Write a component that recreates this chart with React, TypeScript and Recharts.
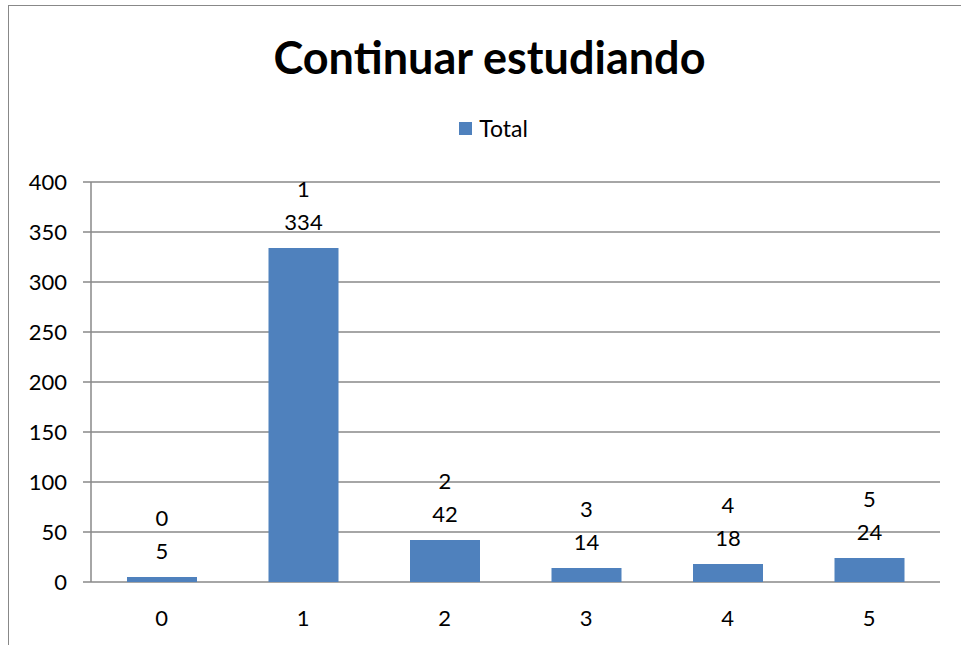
import { BarChart, Bar, XAxis, YAxis, CartesianGrid, LabelList } from "recharts";

const categories = ["0", "1", "2", "3", "4", "5"];
const totals = [5, 334, 42, 14, 18, 24];
const yTicks = [0, 50, 100, 150, 200, 250, 300, 350, 400];
const slotTicks = [0, 1, 2, 3, 4, 5, 6];

const BLUE = "#4F81BD";
const GRID = "#888888";
const FONT = "Lato, 'Open Sans', sans-serif";

const data = categories.map((name, i) => ({ name, slot: i + 0.5, value: totals[i] }));

const renderLabel = (props: any) => {
  const { x, y, width, index, value } = props;
  const cx = Number(x) + Number(width) / 2;
  return (
    <g>
      <text x={cx} y={Number(y) - 60} textAnchor="middle" dominantBaseline="central" fontSize={22} fill="#000" fontFamily={FONT}>
        {categories[index]}
      </text>
      <text x={cx} y={Number(y) - 27} textAnchor="middle" dominantBaseline="central" fontSize={22} fill="#000" fontFamily={FONT}>
        {value}
      </text>
    </g>
  );
};

export default function App() {
  return (
    <div style={{ position: "absolute", left: 0, top: 0, width: 961, height: 645, overflow: "hidden", background: "#fff" }}>
      <div style={{ position: "absolute", left: 8, top: 5, width: 1000, height: 700, border: "1.5px solid #888" }} />
      <div style={{ position: "absolute", left: 0, top: 29, width: 979, textAlign: "center", fontFamily: FONT, fontWeight: 700, fontSize: 45, lineHeight: "56px", color: "#000" }}>
        Continuar estudiando
      </div>
      <div style={{ position: "absolute", left: 0, top: 114, width: 987, display: "flex", justifyContent: "center", alignItems: "center", fontFamily: FONT, fontSize: 23, lineHeight: "28px", color: "#000" }}>
        <span style={{ width: 13, height: 13, background: BLUE, marginRight: 7 }} />
        <span>Total</span>
      </div>
      <div style={{ position: "absolute", left: 0, top: 0 }}>
        <BarChart width={961} height={645} data={data} margin={{ top: 182, right: 21, bottom: 23, left: 0 }}>
          <CartesianGrid vertical={false} stroke={GRID} strokeWidth={1.5} />
          <XAxis
            dataKey="name"
            height={40}
            tickLine={false}
            axisLine={false}
            tickSize={0}
            tickMargin={28}
            tick={{ fill: "#000", fontSize: 22, fontFamily: FONT }}
          />
          <XAxis
            xAxisId="slots"
            type="number"
            dataKey="slot"
            domain={[0, 6]}
            ticks={slotTicks}
            height={0}
            tickSize={8}
            tickLine={{ stroke: GRID, strokeWidth: 1.5 }}
            axisLine={{ stroke: GRID, strokeWidth: 1.5 }}
            tick={() => <g />}
          />
          <YAxis
            width={91}
            domain={[0, 400]}
            ticks={yTicks}
            tickSize={8}
            tickMargin={16}
            interval={0}
            tickLine={{ stroke: GRID, strokeWidth: 1.5 }}
            axisLine={{ stroke: GRID, strokeWidth: 1.5 }}
            tick={{ fill: "#000", fontSize: 22, fontFamily: FONT }}
          />
          <Bar dataKey="value" name="Total" fill={BLUE} isAnimationActive={false} barSize={70}>
            <LabelList dataKey="value" content={renderLabel} />
          </Bar>
        </BarChart>
      </div>
    </div>
  );
}
